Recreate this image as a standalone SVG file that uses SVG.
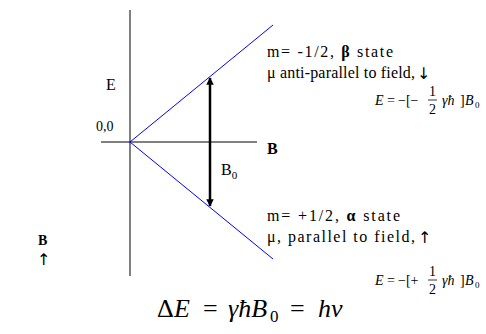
<svg xmlns="http://www.w3.org/2000/svg" width="486" height="334" viewBox="0 0 486 334" font-family="'Liberation Serif', 'DejaVu Serif', serif">
<defs>
<style>
text{font-family:'Liberation Serif','DejaVu Serif',serif;fill:#000}
.lbl{font-size:16px}
.b{font-weight:bold}
.f{font-size:14px}
.i{font-style:italic}
.eq{font-size:26px}
.arr{font-family:'DejaVu Sans',sans-serif;font-size:16px}
.axis{stroke:#000;stroke-width:1;fill:none}
.lvl{stroke:#0000ff;stroke-width:1;fill:none}
.bar{stroke:#000;stroke-width:0.8}
</style>
<marker id="ah" viewBox="0 0 10 10" refX="9" refY="5" markerWidth="3" markerHeight="3" orient="auto-start-reverse" markerUnits="strokeWidth">
<path d="M0,0 L10,5 L0,10 z" fill="#000"/>
</marker>
</defs>
<g id="axes">
<line class="axis" x1="130" y1="10" x2="130" y2="276"/>
<line class="axis" x1="101" y1="142" x2="257" y2="142"/>
<text class="lbl" x="106" y="90">E</text>
<text x="96" y="131" font-size="14">0,0</text>
<text class="lbl b" x="267" y="154">B</text>
</g>
<g id="connectors">
<line class="lvl" x1="130" y1="142" x2="273" y2="25"/>
<line class="lvl" x1="130" y1="142" x2="273" y2="259"/>
<line x1="210" y1="78" x2="210" y2="206" stroke="#000" stroke-width="2.5" marker-start="url(#ah)" marker-end="url(#ah)"/>
</g>
<g id="b0-label">
<text class="lbl" x="221" y="175">B<tspan font-size="11" dy="4">0</tspan></text>
</g>
<g id="beta-state">
<text class="lbl" x="267" y="57" textLength="126" lengthAdjust="spacing">m= -1/2, <tspan class="b">β</tspan> state</text>
<text class="lbl" x="267" y="78" textLength="148" lengthAdjust="spacing">μ anti-parallel to field,</text>
<text class="arr" x="417" y="79">↓</text>
<g id="beta-energy">
<text class="f i" x="375" y="105">E</text>
<text class="f" x="387" y="105">=</text>
<text class="f" x="398" y="105">−[−</text>
<text class="f" x="429" y="96">1</text>
<line class="bar" x1="428" y1="100" x2="437" y2="100"/>
<text class="f" x="429" y="114">2</text>
<text class="f i" x="442" y="105">γħ</text>
<text class="f" x="460" y="105">]</text>
<text class="f i" x="465" y="105">B</text>
<text x="475" y="108" font-size="9">0</text>
</g>
</g>
<g id="alpha-state">
<text class="lbl" x="267" y="221" textLength="133" lengthAdjust="spacing">m= +1/2, <tspan class="b">α</tspan> state</text>
<text class="lbl" x="267" y="242" textLength="148" lengthAdjust="spacing">μ, parallel to field,</text>
<text class="arr" x="418" y="243">↑</text>
<g id="alpha-energy">
<text class="f i" x="375" y="285">E</text>
<text class="f" x="387" y="285">=</text>
<text class="f" x="398" y="285">−[+</text>
<text class="f" x="429" y="276">1</text>
<line class="bar" x1="428" y1="280" x2="437" y2="280"/>
<text class="f" x="429" y="294">2</text>
<text class="f i" x="442" y="285">γħ</text>
<text class="f" x="460" y="285">]</text>
<text class="f i" x="465" y="285">B</text>
<text x="475" y="288" font-size="9">0</text>
</g>
</g>
<g id="field-direction">
<text class="b" x="38" y="245" font-size="14">B</text>
<text class="arr" x="37" y="265" font-size="14">↑</text>
</g>
<g id="resonance">
<text class="eq" x="157" y="317">Δ</text>
<text class="eq i" x="174" y="317">E</text>
<text class="eq" x="203" y="317">=</text>
<text class="eq i" x="228" y="317">γħB</text>
<text x="270" y="322" font-size="17">0</text>
<text class="eq" x="290" y="317">=</text>
<text class="eq i" x="318" y="317">hν</text>
</g>
</svg>
